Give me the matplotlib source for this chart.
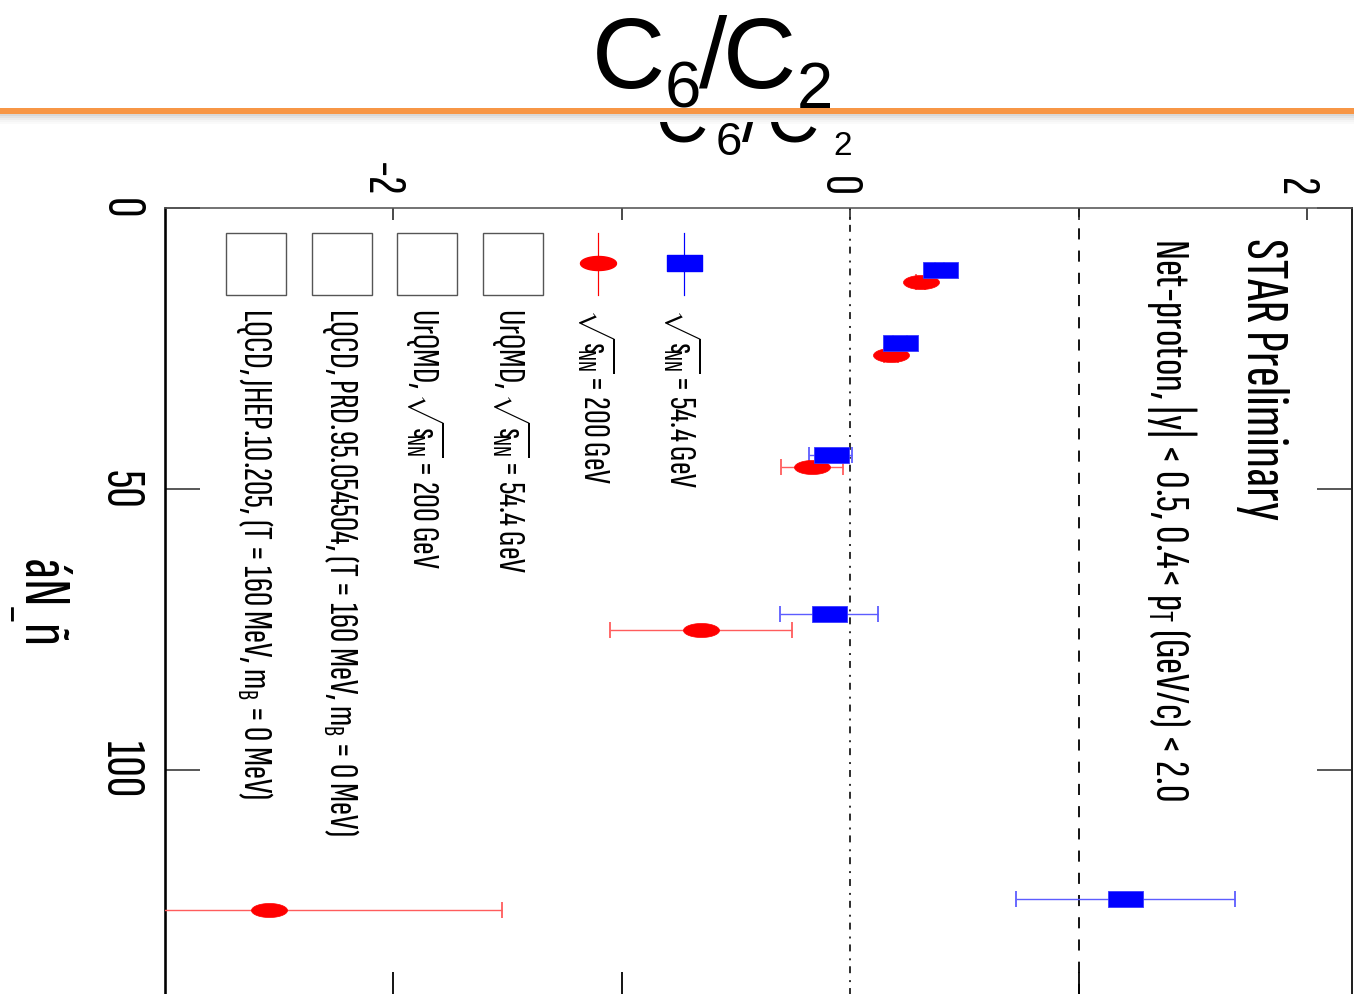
import matplotlib
matplotlib.use("Agg")
import matplotlib.pyplot as plt
from matplotlib.path import Path
from matplotlib.patches import Rectangle
from matplotlib.transforms import ScaledTranslation
import numpy as np

# ---------------- data ----------------
npart_544 = [11.1, 24.1, 44.0, 72.2, 123.0]
c6c2_544 = [0.392, 0.219, -0.085, -0.092, 1.204]
err_544 = [0.02, 0.03, 0.095, 0.215, 0.48]

npart_200 = [13.2, 26.2, 46.1, 75.1, 125.0]
c6c2_200 = [0.309, 0.180, -0.168, -0.652, -2.543]
err_200 = [0.02, 0.03, 0.135, 0.398, 1.02]

x_ticks = [-2, -1, 0, 1, 2]
x_ticklabels = ["-2", "", "0", "", "2"]
y_ticks = [0, 50, 100]
y_ticklabels = ["0", "50", "100"]
ref_zero = 0.0
ref_one = 1.0

SQ = r"$\sqrt{\mathrm{s}_{\!\!\mathrm{NN}}\!\!}$"
legend_labels = [
    SQ + " = 54.4 GeV",
    SQ + " = 200 GeV",
    "UrQMD, " + SQ + " = 54.4 GeV",
    "UrQMD, " + SQ + " = 200 GeV",
    r"LQCD, PRD.95.054504, (T = 160 MeV, m$_{\mathrm{B}}$ = 0 MeV)",
    r"LQCD, JHEP.10.205, (T = 160 MeV, m$_{\mathrm{B}}$ = 0 MeV)",
]
legend_sizes = [27.5, 27.5, 27.5, 27.5, 28.5, 28.5]

# ---------------- style ----------------
COND = "Sofia Sans Extra Condensed"
plt.rcParams["font.family"] = [COND, "DejaVu Sans"]
plt.rcParams["mathtext.fontset"] = "custom"
plt.rcParams["mathtext.rm"] = COND
plt.rcParams["mathtext.it"] = COND
plt.rcParams["mathtext.bf"] = COND
plt.rcParams["mathtext.sf"] = COND
plt.rcParams["lines.scale_dashes"] = False

W, H = 1354, 994
fig = plt.figure(figsize=(W / 100, H / 100), dpi=100)

AX_L, AX_R, AX_T, AX_B = 165, 1352, 208, 1006
ax = fig.add_axes([AX_L / W, 1 - AX_B / H, (AX_R - AX_L) / W, (AX_B - AX_T) / H])
ax.set_xlim(-3.0, 2.197)
ax.set_ylim(142.0, 0.0)


def afx(px):
    return (px - AX_L) / (AX_R - AX_L)


def afy(py):
    return (AX_B - py) / (AX_B - AX_T)


def ffx(px):
    return px / W


def ffy(py):
    return 1 - py / H


PT = 0.72  # points per pixel

# spines
ax.spines["bottom"].set_visible(False)
ax.spines["left"].set_linewidth(2.6 * PT)
ax.spines["left"].set_color("black")
ax.spines["top"].set_linewidth(1.6 * PT)
ax.spines["top"].set_color("#555555")
ax.spines["right"].set_linewidth(2.0 * PT)
ax.spines["right"].set_color("#222222")

# x ticks (top)
ax.set_xticks(x_ticks)
ax.set_xticklabels(x_ticklabels)
ax.xaxis.set_ticks_position("top")
ax.tick_params(axis="x", which="major", direction="in", length=12 * PT, width=1.6 * PT,
               color="#222222", top=True, bottom=False, labeltop=True, labelbottom=False,
               labelsize=40, pad=12 * PT, labelrotation=-90)
shift_left = ScaledTranslation(-13 / 100, 0, fig.dpi_scale_trans)
for t in ax.xaxis.get_major_ticks():
    t.label2.set_ha("center")
    t.label2.set_va("bottom")
    t.label2.set_transform(t.label2.get_transform() + shift_left)

# bottom ticks (spine lies below the picture)
sec = ax.secondary_xaxis("bottom")
sec.set_xticks([-2, -1, 1])
sec.set_xticklabels(["", "", ""])
sec.tick_params(direction="in", length=34 * PT, width=1.8 * PT, color="black")
for s in sec.spines.values():
    s.set_visible(False)

# y ticks
ax.set_yticks(y_ticks)
ax.set_yticklabels(y_ticklabels)
ax.tick_params(axis="y", which="major", direction="in", length=35 * PT, width=1.6 * PT,
               color="#333333", left=True, right=True, labelleft=True, labelright=False,
               labelsize=41, pad=20 * PT, labelrotation=-90)
for t in ax.yaxis.get_major_ticks():
    t.label1.set_ha("right")
    t.label1.set_va("center")

# reference lines
ax.axvline(ref_zero, color="black", lw=1.6 * PT, linestyle=(0, (5, 4.3, 1.4, 5)), zorder=1)
ax.axvline(ref_one, color="black", lw=1.8 * PT, linestyle=(0, (8, 8)), zorder=1)

# markers
rect_marker = Path([(-1, -0.43), (1, -0.43), (1, 0.43), (-1, 0.43), (-1, -0.43)],
                   [Path.MOVETO, Path.LINETO, Path.LINETO, Path.LINETO, Path.CLOSEPOLY])
th = np.linspace(0, 2 * np.pi, 60)
ell_marker = Path(np.column_stack([np.cos(th), 0.39 * np.sin(th)]))

BLUE = "#0000ff"
RED = "#ff0000"

ax.errorbar(c6c2_544, npart_544, xerr=err_544, fmt="none", ecolor="#5c5cff",
            elinewidth=1.4 * PT, capsize=8 * PT, capthick=1.8 * PT, zorder=3)
ax.errorbar(c6c2_200, npart_200, xerr=err_200, fmt="none", ecolor="#ff5c5c",
            elinewidth=1.4 * PT, capsize=8 * PT, capthick=1.8 * PT, zorder=3)
ax.plot(c6c2_200, npart_200, linestyle="none", marker=ell_marker, markersize=36 * PT,
        color=RED, markeredgecolor=RED, markeredgewidth=0.5, zorder=4)
ax.plot(c6c2_544, npart_544, linestyle="none", marker=rect_marker, markersize=35 * PT,
        color=BLUE, markeredgecolor="#3a3aff", markeredgewidth=0.6, zorder=5)

# ---------------- legend (drawn rotated, by hand) ----------------
TA = ax.transAxes
leg_x = [684, 598, 513, 427, 342, 256]
for i, (lx, lab, fs) in enumerate(zip(leg_x, legend_labels, legend_sizes)):
    if i == 0:
        ax.plot([afx(lx), afx(lx)], [afy(233), afy(295)], color=BLUE, lw=1.2 * PT, transform=TA)
        ax.plot([afx(lx)], [afy(263)], marker=rect_marker, markersize=35 * PT, color=BLUE,
                linestyle="none", transform=TA)
    elif i == 1:
        ax.plot([afx(lx), afx(lx)], [afy(233), afy(295)], color=RED, lw=1.2 * PT, transform=TA)
        ax.plot([afx(lx)], [afy(263)], marker=ell_marker, markersize=36 * PT, color=RED,
                linestyle="none", transform=TA)
    else:
        ax.add_patch(Rectangle((afx(lx - 30), afy(295)), afx(lx + 30) - afx(lx - 30),
                               afy(233) - afy(295), transform=TA, fill=False,
                               edgecolor="#555555", lw=1.4 * PT))
    ax.text(afx(lx - 2), afy(308), lab, transform=TA, rotation=-90, ha="center", va="top",
            fontsize=fs, color="black")

# annotations
ax.text(afx(1263), afy(238), "STAR Preliminary", transform=TA, rotation=-90,
        ha="center", va="top", fontsize=44)
ax.text(afx(1172), afy(238), r"Net-proton, |y| < 0.5, 0.4< p$_{\mathrm{T}}$ (GeV/c) < 2.0",
        transform=TA, rotation=-90, ha="center", va="top", fontsize=35)

# axis label (rotated chart)
fig.text(ffx(40), ffy(600), r"áN$_{\_}$ñ", rotation=-90, ha="center", va="center",
         fontsize=48)

# ---------------- slide title area ----------------
SANS = "Liberation Sans"
# partially hidden axis title below the orange bar
for s, px, py, fs in [("C", 655, 141, 52), ("6", 716, 155, 34), ("/", 742, 141, 52),
                      ("C", 766, 141, 52), ("2", 833, 155, 24)]:
    fig.text(ffx(px), ffy(py), s, family=SANS, fontsize=fs, ha="left", va="baseline", zorder=1)

fig.add_artist(Rectangle((0, ffy(122)), 1, 1 - ffy(122), transform=fig.transFigure,
                         facecolor="white", edgecolor="none", zorder=2))
# shadow under the orange bar
for k, a in enumerate([0.30, 0.22, 0.14, 0.08, 0.04]):
    fig.add_artist(Rectangle((0, ffy(114 + 2 * (k + 1))), 1, 2 / H, transform=fig.transFigure,
                             facecolor="#808080", alpha=a, edgecolor="none", zorder=3))
fig.add_artist(Rectangle((0, ffy(114)), 1, 6 / H, transform=fig.transFigure,
                         facecolor="#f79646", edgecolor="none", zorder=3))

for s, px, py, fs in [("C", 592, 88, 73), ("6", 665, 108, 47), ("/", 699, 88, 73),
                      ("C", 723, 88, 73), ("2", 797, 108, 47)]:
    fig.text(ffx(px), ffy(py), s, family=SANS, fontsize=fs, ha="left", va="baseline", zorder=4)

fig.savefig("out.png", dpi=100)
